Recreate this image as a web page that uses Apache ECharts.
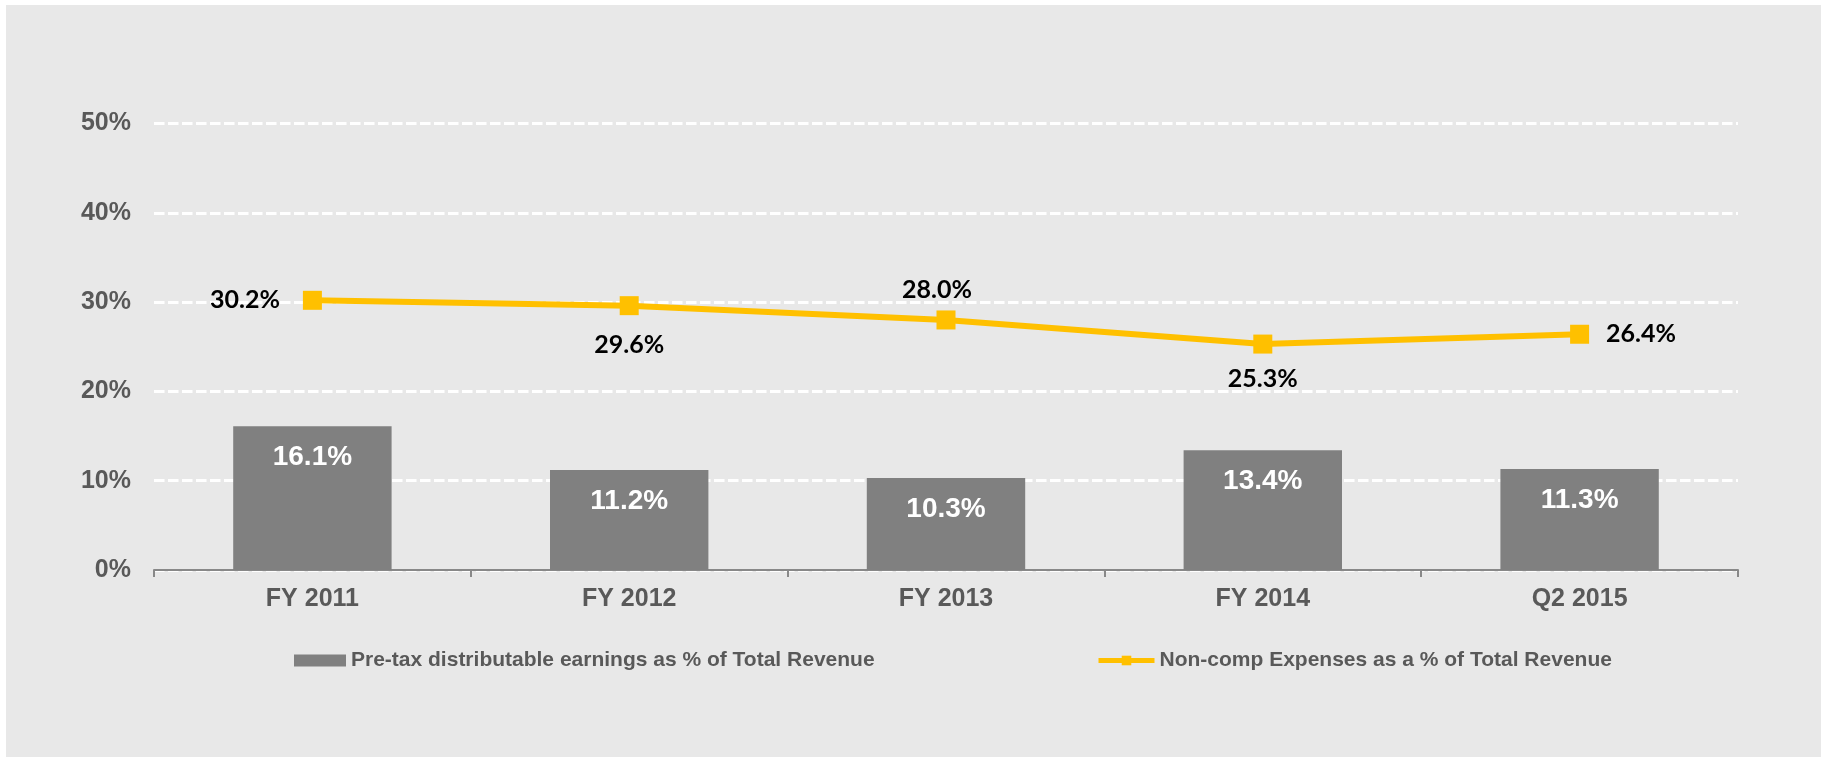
<!DOCTYPE html>
<html>
<head>
<meta charset="utf-8">
<script src="https://cdn.jsdelivr.net/npm/echarts@6/dist/echarts.min.js"></script>
<style>
  html, body { margin: 0; padding: 0; background: #ffffff; }
  #panel { position: absolute; left: 6px; top: 5px; width: 1815px; height: 752px; background: #e8e8e8; }
  #chart { position: absolute; left: 0; top: 0; width: 1825px; height: 757px; }
</style>
</head>
<body>
<div id="panel"></div>
<div id="chart"></div>
<script>
// categories and values
const categories = ['FY 2011', 'FY 2012', 'FY 2013', 'FY 2014', 'Q2 2015']
const earnings = [16.1, 11.2, 10.3, 13.4, 11.3]
const nonComp = [30.2, 29.6, 28.0, 25.3, 26.4]
// where each line label sits relative to its point
const lineLabelPos = ['left', 'bottom', 'top', 'bottom', 'right']
const lineLabelDist = [23, 17, 8, 13, 17]
const lineLabelShift = [0, 0, -9, 0, 0]

const barName = 'Pre-tax distributable earnings as % of Total Revenue'
const lineName = 'Non-comp Expenses as a % of Total Revenue'

const axisFont = { color: '#595959', fontSize: 25, fontWeight: 'bold', fontFamily: 'Liberation Sans, Arial, sans-serif' }
const legendFont = { color: '#595959', fontSize: 21, fontWeight: 'bold', fontFamily: 'Liberation Sans, Arial, sans-serif' }

const chart = echarts.init(document.getElementById('chart'))

const option = {
    animation: false,
    grid: { left: 154, right: 87, top: 123.5, bottom: 187, outerBoundsMode: 'none' },
    legend: [
        {
            data: [{ name: barName, icon: 'rect' }], left: 294, top: 650, padding: 0,
            itemWidth: 52, itemHeight: 12,
            textStyle: legendFont
        },
        {
            data: [lineName], left: 1096, top: 650, padding: 0,
            itemWidth: 56, itemHeight: 12,
            lineStyle: { width: 5 },
            textStyle: legendFont
        }
    ],
    xAxis: {
        type: 'category',
        data: categories,
        axisLine: { lineStyle: { color: '#888888', width: 2 } },
        axisTick: { show: true, length: 7, lineStyle: { color: '#888888', width: 2 } },
        axisLabel: Object.assign({ margin: 17 }, axisFont)
    },
    yAxis: {
        type: 'value',
        min: 0, max: 50, interval: 10,
        axisLine: { show: false },
        axisTick: { show: false },
        axisLabel: Object.assign({ margin: 23, formatter: '{value}%' }, axisFont),
        splitLine: { lineStyle: { color: '#ffffff', width: 3, type: [10.5, 3.5] } }
    },
    series: [
        {
            name: barName,
            type: 'bar',
            barWidth: '50%',
            data: earnings,
            itemStyle: { color: '#808080' },
            label: {
                show: true, position: 'insideTop', distance: 17,
                formatter: p => p.value.toFixed(1) + '%',
                color: '#ffffff', fontSize: 28, fontWeight: 'bold',
                fontFamily: 'Liberation Sans, Arial, sans-serif'
            }
        },
        {
            name: lineName,
            type: 'line',
            symbol: 'rect',
            symbolSize: 19,
            lineStyle: { color: '#ffc000', width: 6 },
            itemStyle: { color: '#ffc000' },
            data: nonComp.map((v, i) => ({
                value: v,
                label: { position: lineLabelPos[i], distance: lineLabelDist[i], offset: [lineLabelShift[i], 0] }
            })),
            label: {
                show: true,
                formatter: p => p.value.toFixed(1) + '%',
                color: '#000000', fontSize: 25, fontWeight: 'bold',
                fontFamily: 'Lato, sans-serif'
            }
        }
    ]
}

chart.setOption(option)
</script>
</body>
</html>
